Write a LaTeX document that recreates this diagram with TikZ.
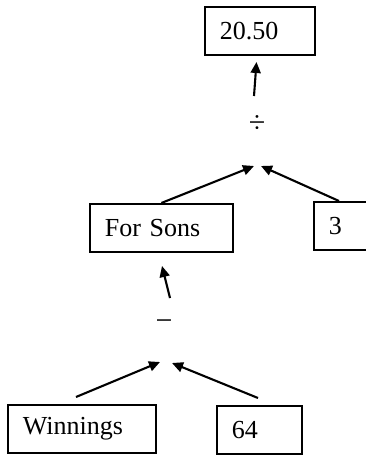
\documentclass[tikz,border=0pt]{standalone}
\usepackage{fontspec}
\setmainfont{Liberation Serif}
\usetikzlibrary{arrows.meta,calc}
\begin{document}
\begin{tikzpicture}[x=1pt,y=-1pt,
  valbox/.style={draw, line width=1.8pt, minimum height=48pt, anchor=north west,
    inner xsep=15pt, align=left, font=\fontsize{26}{30}\selectfont},
  op/.style={font=\fontsize{30}{34}\selectfont, inner sep=0pt},
  arr/.style={line width=2.1pt, -{Triangle[length=11pt,width=10pt]}}]
  \useasboundingbox (0,0) rectangle (366,455);

  % value boxes
  \node[valbox, text width=80pt]  (res)   at (204,6)   {20.50};
  \node[valbox, text width=113pt] (fs)    at (89,203)  {For Sons};
  \node[valbox, text width=40pt]  (three) at (313,201) {3};
  \node[valbox, text width=118pt] (win)   at (7,404)   {Winnings};
  \node[valbox, text width=55pt]  (sf)    at (216,405) {64};

  % operators
  \node[op] (div)   at (257,124) {÷};
  \node[op] (minus) at (164,325) {−};

  % arrow end points
  \coordinate (u1)  at (254,96);
  \coordinate (t1)  at (256.5,62);
  \coordinate (j1l) at (254,166);
  \coordinate (j1r) at (261,166);
  \coordinate (u2)  at (170,298);
  \coordinate (t2)  at (162,266);
  \coordinate (j2l) at (160,362);
  \coordinate (j2r) at (172,363);
  \coordinate (w0)  at (76,397);
  \coordinate (s0)  at (258,398);

  % division step
  \draw[arr] (fs.north) -- (j1l);
  \draw[arr] ($(three.north west)+(26,0)$) -- (j1r);
  \draw[arr] (u1) -- (t1);

  % subtraction step
  \draw[arr] (w0) -- (j2l);
  \draw[arr] (s0) -- (j2r);
  \draw[arr] (u2) -- (t2);
\end{tikzpicture}
\end{document}
